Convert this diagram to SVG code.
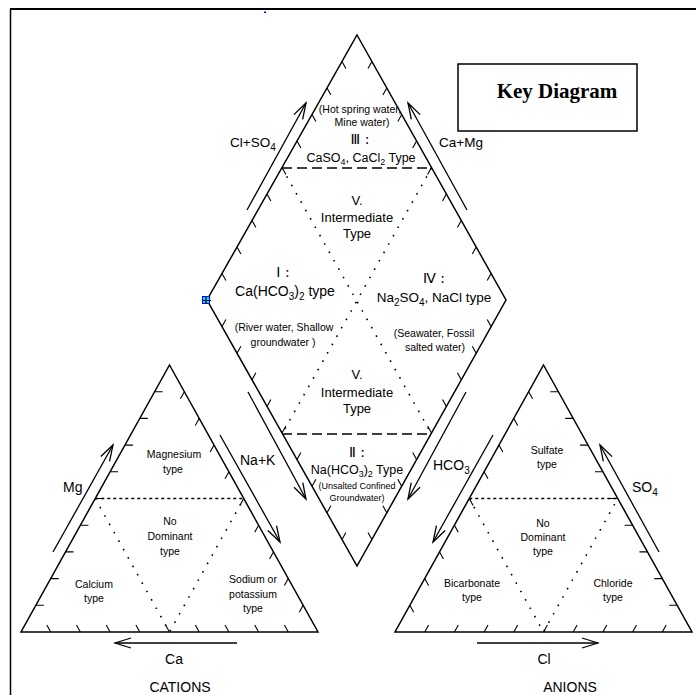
<svg xmlns="http://www.w3.org/2000/svg" width="696" height="695" viewBox="0 0 696 695">
<style>
.edge{fill:none;stroke:#000;stroke-width:1.5;stroke-linejoin:miter}
.tick{fill:none;stroke:#000;stroke-width:1.1}
.dash{fill:none;stroke:#000;stroke-width:1.3;stroke-dasharray:10 5}
.dotd{fill:none;stroke:#000;stroke-width:1.6;stroke-dasharray:3 3}
.dots{fill:none;stroke:#000;stroke-width:1.6;stroke-dasharray:1.6 8}
.arr{fill:none;stroke:#000;stroke-width:1.3;marker-end:url(#ah)}
text{font-family:"Liberation Sans","Noto Sans CJK JP",sans-serif;fill:#000;text-anchor:middle}
.s{font-size:10.5px}
.xs{font-size:9px}
.m{font-size:13px}
.l{font-size:14px}
.st{text-anchor:start}
.rn{font-family:"DejaVu Sans","Noto Sans CJK JP",sans-serif;font-size:14px}
.key{font-family:"Liberation Serif",serif;font-weight:bold;font-size:21px}
</style>
<defs>
<marker id="ah" markerUnits="userSpaceOnUse" markerWidth="20" markerHeight="14" viewBox="-18 -7 20 14" refX="0" refY="0" orient="auto">
<path d="M-16,-5 L0,0 L-16,5" fill="none" stroke="#000" stroke-width="1.3"/>
</marker>
</defs>
<rect width="696" height="695" fill="#fff"/>
<g id="frame">
<path d="M10,9 H696" fill="none" stroke="#000" stroke-width="2"/>
<path d="M10.5,9 V695" fill="none" stroke="#000" stroke-width="1.5"/>
<rect x="264" y="11.5" width="2" height="1.5" fill="#0000ff"/>
</g>
<g id="key-box">
<rect x="458" y="64" width="179" height="67" fill="none" stroke="#000" stroke-width="1.5"/>
<text class="key" x="557" y="98">Key Diagram</text>
</g>
<g id="diamond">
<path class="edge" d="M357,35 L506,300 L357,566 L207,300 Z"/>
<path class="tick" d="M222,273.5 l3.9,7 M237,247 l3.9,7 M252,220.5 l3.9,7 M267,194 l3.9,7 M282,167.5 l3.9,7 M297,141 l3.9,7 M312,114.5 l3.9,7 M327,88 l3.9,7 M342,61.5 l3.9,7"/>
<path class="tick" d="M371.9,61.5 l-3.9,7 M386.8,88 l-3.9,7 M401.7,114.5 l-3.9,7 M416.6,141 l-3.9,7 M431.5,167.5 l-3.9,7 M446.4,194 l-3.9,7 M461.3,220.5 l-3.9,7 M476.2,247 l-3.9,7 M491.1,273.5 l-3.9,7"/>
<path class="tick" d="M222,326.6 l3.9,-7 M237,353.2 l3.9,-7 M252,379.8 l3.9,-7 M267,406.4 l3.9,-7 M282,433 l3.9,-7 M297,459.6 l3.9,-7 M312,486.2 l3.9,-7 M327,512.8 l3.9,-7 M342,539.4 l3.9,-7"/>
<path class="tick" d="M491.1,326.6 l-3.9,-7 M476.2,353.2 l-3.9,-7 M461.3,379.8 l-3.9,-7 M446.4,406.4 l-3.9,-7 M431.5,433 l-3.9,-7 M416.6,459.6 l-3.9,-7 M401.7,486.2 l-3.9,-7 M386.8,512.8 l-3.9,-7 M371.9,539.4 l-3.9,-7"/>
<path class="dash" d="M282,168 H431.5 M282,434 H431.5"/>
<path class="dots" d="M282,168 L431.5,434 M431.5,168 L282,434"/>
<rect x="202.5" y="296.5" width="7" height="7" fill="#00e0ff" stroke="#0000ff" stroke-width="1"/>
<path d="M203,300.5 h8 M206,297 v7" stroke="#000" stroke-width="1.2"/>
<text class="s" x="360" y="113">(Hot spring water,</text>
<text class="s" x="362" y="126">Mine water)</text>
<text class="rn" x="360" y="144">Ⅲ :</text>
<text style="font-size:12.5px" x="361" y="162">CaSO<tspan font-size="9" dy="3">4</tspan><tspan dy="-3">, CaCl</tspan><tspan font-size="9" dy="3">2</tspan><tspan dy="-3"> Type</tspan></text>
<text class="m" x="357" y="205">V.</text>
<text class="m" x="357" y="222">Intermediate</text>
<text class="m" x="357" y="238">Type</text>
<text class="rn" x="283" y="277">Ⅰ :</text>
<text class="l" x="285" y="296">Ca(HCO<tspan font-size="10" dy="4">3</tspan><tspan dy="-4">)</tspan><tspan font-size="10" dy="4">2</tspan><tspan dy="-4"> type</tspan></text>
<text class="s" x="284" y="331">(River water, Shallow</text>
<text class="s" x="283" y="346">groundwater )</text>
<text class="rn" x="434" y="283">Ⅳ :</text>
<text style="font-size:13.5px" x="434" y="302">Na<tspan font-size="10" dy="4">2</tspan><tspan dy="-4">SO</tspan><tspan font-size="10" dy="4">4</tspan><tspan dy="-4">, NaCl type</tspan></text>
<text class="s" x="434" y="337">(Seawater, Fossil</text>
<text class="s" x="435" y="351">salted water)</text>
<text class="m" x="357" y="379">V.</text>
<text class="m" x="357" y="397">Intermediate</text>
<text class="m" x="357" y="413">Type</text>
<text class="rn" x="357" y="457">Ⅱ :</text>
<text style="font-size:12.5px" x="357" y="474">Na(HCO<tspan font-size="9" dy="3">3</tspan><tspan dy="-3">)</tspan><tspan font-size="9" dy="3">2</tspan><tspan dy="-3"> Type</tspan></text>
<text class="xs" x="357" y="489">(Unsalted Confined</text>
<text class="xs" x="357" y="501">Groundwater)</text>
</g>
<g id="cations">
<path class="edge" d="M169.5,365 L318,632 L21,632 Z"/>
<path class="tick" d="M35.85,605.3 h8 M50.7,578.6 h8 M65.55,551.9 h8 M80.4,525.2 h8 M95.25,498.5 h8 M110.1,471.8 h8 M124.95,445.1 h8 M139.8,418.4 h8 M154.65,391.7 h8"/>
<path class="tick" d="M184.35,391.7 l-3.9,7 M199.2,418.4 l-3.9,7 M214.05,445.1 l-3.9,7 M228.9,471.8 l-3.9,7 M243.75,498.5 l-3.9,7 M258.6,525.2 l-3.9,7 M273.45,551.9 l-3.9,7 M288.3,578.6 l-3.9,7 M303.15,605.3 l-3.9,7"/>
<path class="tick" d="M50.7,632 l-3.9,-7 M80.4,632 l-3.9,-7 M110.1,632 l-3.9,-7 M139.8,632 l-3.9,-7 M169.5,632 l-3.9,-7 M199.2,632 l-3.9,-7 M228.9,632 l-3.9,-7 M258.6,632 l-3.9,-7 M288.3,632 l-3.9,-7"/>
<path class="dotd" d="M95.25,498.5 H243.75"/>
<path class="dots" d="M95.25,498.5 L169.5,632 L243.75,498.5"/>
<text class="s" x="174" y="458">Magnesium</text>
<text class="s" x="173" y="473">type</text>
<text class="s" x="170" y="525">No</text>
<text class="s" x="170" y="540">Dominant</text>
<text class="s" x="170" y="555">type</text>
<text class="s" x="94" y="588">Calcium</text>
<text class="s" x="94" y="602">type</text>
<text class="s" x="253" y="583">Sodium or</text>
<text class="s" x="253" y="598">potassium</text>
<text class="s" x="253" y="612">type</text>
<text class="l" x="174" y="664">Ca</text>
<text class="l" x="180" y="692">CATIONS</text>
</g>
<g id="anions">
<path class="edge" d="M543.5,365 L692,632 L395,632 Z"/>
<path class="tick" d="M409.85,605.3 l3.9,7 M424.7,578.6 l3.9,7 M439.55,551.9 l3.9,7 M454.4,525.2 l3.9,7 M469.25,498.5 l3.9,7 M484.1,471.8 l3.9,7 M498.95,445.1 l3.9,7 M513.8,418.4 l3.9,7 M528.65,391.7 l3.9,7"/>
<path class="tick" d="M558.35,391.7 h-8 M573.2,418.4 h-8 M588.05,445.1 h-8 M602.9,471.8 h-8 M617.75,498.5 h-8 M632.6,525.2 h-8 M647.45,551.9 h-8 M662.3,578.6 h-8 M677.15,605.3 h-8"/>
<path class="tick" d="M424.7,632 l3.9,-7 M454.4,632 l3.9,-7 M484.1,632 l3.9,-7 M513.8,632 l3.9,-7 M543.5,632 l3.9,-7 M573.2,632 l3.9,-7 M602.9,632 l3.9,-7 M632.6,632 l3.9,-7 M662.3,632 l3.9,-7"/>
<path class="dotd" d="M469.25,498.5 H617.75"/>
<path class="dots" d="M469.25,498.5 L543.5,632 L617.75,498.5"/>
<text class="s" x="547" y="454">Sulfate</text>
<text class="s" x="547" y="468">type</text>
<text class="s" x="543" y="527">No</text>
<text class="s" x="543" y="541">Dominant</text>
<text class="s" x="543" y="555">type</text>
<text class="s" x="472" y="587">Bicarbonate</text>
<text class="s" x="472" y="601">type</text>
<text class="s" x="613" y="587">Chloride</text>
<text class="s" x="613" y="601">type</text>
<text class="l" x="544" y="664">Cl</text>
<text class="l" x="570" y="692">ANIONS</text>
</g>
<g id="connectors">
<path class="arr" d="M247,210 L306,103"/>
<path class="arr" d="M467,210 L408,103"/>
<path class="arr" d="M248,392 L306,499"/>
<path class="arr" d="M466,392 L408,499"/>
<path class="arr" d="M53,552 L113,445"/>
<path class="arr" d="M220,435 L280,542"/>
<path class="arr" d="M237,643 L115,643"/>
<path class="arr" d="M493,435 L433,542"/>
<path class="arr" d="M659,552 L600,445"/>
<path class="arr" d="M477,643 L598,643"/>
<text class="st" style="font-size:13.5px" x="230" y="147">Cl+SO<tspan font-size="10" dy="4">4</tspan></text>
<text class="st" style="font-size:13.5px" x="439" y="147">Ca+Mg</text>
<text class="l st" x="240" y="465">Na+K</text>
<text class="l st" x="433" y="470">HCO<tspan font-size="10" dy="4">3</tspan></text>
<text class="l st" x="63" y="492">Mg</text>
<text class="l st" x="632" y="492">SO<tspan font-size="10" dy="4">4</tspan></text>
</g>
</svg>
